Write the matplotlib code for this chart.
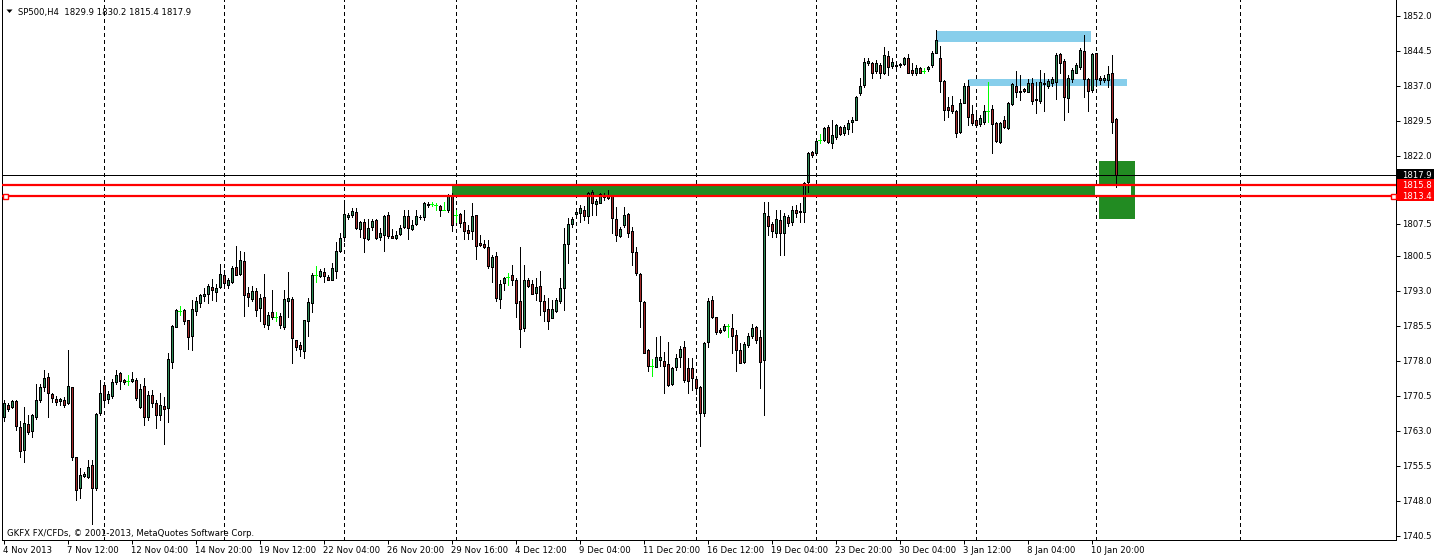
import matplotlib
matplotlib.use('Agg')
import matplotlib.pyplot as plt
from matplotlib.collections import LineCollection, PolyCollection
from matplotlib.patches import Rectangle, Polygon
import matplotlib.transforms as mtransforms

W, H, DPI = 1436, 558, 100

FS = 6.1
plt.rcParams['font.family'] = ['DejaVu Sans']

# ---------------- data ----------------
symbol = 'SP500,H4'
copyright_text = 'GKFX FX/CFDs, \u00a9 2001-2013, MetaQuotes Software Corp.'

opens = [
 1766.0, 1768.6, 1768.1, 1769.5, 1763.8, 1758.9, 1764.5, 1763.1, 1766.1, 1769.7,
 1772.5, 1774.5, 1771.0, 1769.8, 1769.5, 1769.7, 1769.0, 1772.4, 1757.4, 1750.9,
 1753.4, 1753.2, 1755.7, 1750.7, 1766.8, 1772.9, 1769.8, 1770.5, 1773.6, 1775.4,
 1773.9, 1773.8, 1773.8, 1773.9, 1768.1, 1772.7, 1766.1, 1770.7, 1769.1, 1766.5,
 1768.4, 1767.9, 1777.9, 1785.4, 1788.8, 1789.0, 1786.8, 1783.4, 1788.8, 1790.5,
 1792.0, 1792.5, 1794.0, 1792.9, 1793.8, 1796.5, 1794.3, 1795.0, 1798.1, 1796.7,
 1799.4, 1792.7, 1791.3, 1793.1, 1789.3, 1791.7, 1785.7, 1788.5, 1787.5, 1787.7,
 1785.4, 1791.0, 1791.3, 1782.5, 1781.5, 1780.2, 1786.5, 1790.4, 1796.5, 1796.3,
 1797.2, 1796.0, 1795.5, 1797.4, 1801.7, 1804.7, 1809.0, 1809.3, 1809.9, 1806.4,
 1807.9, 1804.1, 1806.8, 1808.3, 1804.7, 1805.0, 1809.3, 1804.8, 1804.3, 1805.2,
 1806.8, 1809.1, 1806.3, 1807.4, 1808.8, 1808.8, 1811.5, 1811.7, 1811.5, 1811.3,
 1810.5, 1810.3, 1813.6, 1809.3, 1809.5, 1807.9, 1806.1, 1805.8, 1809.3, 1803.4,
 1803.1, 1802.4, 1798.1, 1800.5, 1791.3, 1794.8, 1796.0, 1796.5, 1795.5, 1790.9,
 1785.0, 1795.4, 1794.5, 1792.7, 1794.1, 1790.9, 1789.1, 1787.3, 1788.8, 1790.8,
 1793.6, 1803.1, 1807.4, 1809.5, 1809.7, 1810.5, 1809.1, 1814.3, 1811.6, 1812.0,
 1813.6, 1813.4, 1813.4, 1808.4, 1804.8, 1807.2, 1809.5, 1805.9, 1801.5, 1796.7,
 1790.7, 1780.4, 1776.9, 1776.8, 1778.2, 1778.1, 1777.4, 1773.0, 1776.8, 1778.8,
 1781.0, 1776.5, 1776.5, 1774.1, 1772.4, 1766.9, 1782.0, 1791.1, 1787.4, 1784.6,
 1784.7, 1785.5, 1785.2, 1783.6, 1780.4, 1777.9, 1781.5, 1783.4, 1785.4, 1783.2,
 1778.2, 1809.1, 1807.4, 1805.4, 1808.3, 1805.4, 1808.8, 1807.9, 1810.5, 1810.1,
 1810.0, 1816.5, 1822.8, 1822.6, 1825.4, 1825.4, 1828.1, 1824.8, 1826.0, 1828.1,
 1827.0, 1827.7, 1829.3, 1829.8, 1835.4, 1837.2, 1842.0, 1842.0, 1840.3, 1841.5,
 1839.8, 1843.4, 1841.3, 1841.5, 1841.6, 1841.8, 1842.9, 1840.4, 1839.8, 1840.9,
 1840.3, 1840.6, 1841.5, 1844.1, 1842.9, 1838.1, 1832.4, 1832.9, 1831.7, 1827.2,
 1833.4, 1837.0, 1830.9, 1829.7, 1828.8, 1829.3, 1831.7, 1832.0, 1829.0, 1825.0,
 1829.6, 1827.9, 1833.1, 1837.0, 1836.0, 1836.3, 1835.8, 1837.6, 1834.3, 1833.8,
 1837.4, 1837.0, 1837.7, 1837.9, 1843.8, 1842.4, 1834.4, 1838.4, 1839.8, 1841.1,
 1844.6, 1838.4, 1836.1, 1844.0, 1838.8, 1838.3, 1838.3, 1839.8, 1829.9]

highs = [
 1769.7, 1769.0, 1769.7, 1769.7, 1765.2, 1768.1, 1766.5, 1766.7, 1773.2, 1773.2,
 1776.0, 1775.4, 1771.2, 1770.5, 1770.0, 1770.4, 1780.4, 1772.5, 1757.5, 1755.0,
 1754.3, 1756.8, 1756.8, 1766.8, 1774.0, 1773.6, 1771.5, 1774.1, 1776.1, 1775.7,
 1774.1, 1775.0, 1775.7, 1774.3, 1773.2, 1774.3, 1771.5, 1771.8, 1769.7, 1771.1,
 1770.4, 1779.7, 1785.7, 1789.1, 1789.8, 1789.1, 1786.8, 1791.1, 1791.8, 1792.5,
 1793.6, 1794.5, 1795.6, 1794.5, 1798.8, 1797.5, 1795.8, 1798.4, 1802.7, 1801.7,
 1801.5, 1793.8, 1794.1, 1793.6, 1792.5, 1796.7, 1788.6, 1793.3, 1788.6, 1788.4,
 1793.3, 1797.2, 1791.8, 1782.6, 1782.0, 1786.8, 1791.5, 1796.8, 1798.4, 1797.7,
 1797.9, 1796.5, 1799.0, 1803.6, 1805.4, 1812.6, 1809.7, 1810.8, 1810.8, 1808.1,
 1808.4, 1808.4, 1808.4, 1808.4, 1806.5, 1809.3, 1809.9, 1806.3, 1805.8, 1807.2,
 1810.3, 1810.3, 1808.3, 1810.3, 1809.3, 1812.2, 1812.2, 1812.1, 1811.8, 1811.5,
 1812.2, 1813.8, 1814.0, 1810.5, 1809.7, 1810.5, 1807.2, 1811.8, 1809.3, 1805.0,
 1804.0, 1804.0, 1800.8, 1801.5, 1795.4, 1796.1, 1796.8, 1798.6, 1795.8, 1802.4,
 1798.6, 1795.8, 1795.5, 1795.8, 1797.4, 1792.2, 1791.5, 1791.1, 1791.5, 1795.8,
 1806.5, 1808.6, 1808.8, 1810.4, 1811.5, 1811.3, 1814.3, 1814.7, 1812.7, 1814.0,
 1814.0, 1814.7, 1813.6, 1811.1, 1806.7, 1811.1, 1809.7, 1806.8, 1802.5, 1796.8,
 1790.8, 1780.5, 1778.4, 1783.2, 1783.4, 1780.0, 1782.2, 1776.8, 1779.5, 1781.2,
 1782.4, 1778.6, 1778.6, 1774.3, 1772.7, 1782.2, 1791.5, 1792.0, 1787.5, 1785.0,
 1786.0, 1786.0, 1788.2, 1784.7, 1781.8, 1782.2, 1784.0, 1786.0, 1785.5, 1784.7,
 1812.2, 1812.2, 1807.9, 1810.4, 1810.5, 1809.8, 1809.3, 1811.3, 1811.5, 1812.0,
 1816.5, 1822.9, 1823.1, 1825.3, 1826.8, 1828.1, 1828.6, 1829.8, 1828.8, 1828.4,
 1828.6, 1829.8, 1830.3, 1834.8, 1838.8, 1842.9, 1843.1, 1842.2, 1842.6, 1842.0,
 1845.4, 1844.6, 1842.9, 1842.0, 1842.0, 1843.3, 1843.8, 1842.0, 1841.5, 1841.1,
 1840.8, 1841.3, 1844.6, 1848.9, 1845.6, 1838.3, 1834.7, 1834.8, 1831.8, 1834.1,
 1837.6, 1838.3, 1832.9, 1831.1, 1830.8, 1832.9, 1837.9, 1832.9, 1829.3, 1829.3,
 1830.6, 1833.6, 1837.6, 1840.1, 1839.3, 1836.5, 1838.4, 1838.6, 1837.9, 1840.4,
 1839.7, 1838.4, 1839.0, 1844.1, 1844.0, 1842.7, 1839.3, 1840.8, 1841.9, 1845.1,
 1847.9, 1838.6, 1844.1, 1844.1, 1839.1, 1839.3, 1841.3, 1843.6, 1830.2]

lows = [
 1765.2, 1767.3, 1767.9, 1763.2, 1757.5, 1756.4, 1762.4, 1761.8, 1765.7, 1769.2,
 1771.5, 1766.1, 1769.3, 1768.6, 1768.6, 1768.2, 1768.8, 1756.8, 1748.2, 1748.6,
 1753.2, 1752.9, 1743.0, 1750.4, 1766.5, 1768.6, 1769.0, 1770.0, 1773.1, 1772.0,
 1773.2, 1772.9, 1773.6, 1769.7, 1767.9, 1764.3, 1765.4, 1768.2, 1763.6, 1765.4,
 1760.2, 1765.0, 1776.5, 1785.3, 1787.9, 1786.0, 1780.7, 1780.3, 1787.9, 1789.7,
 1790.8, 1790.5, 1791.1, 1791.0, 1793.6, 1794.0, 1793.6, 1794.8, 1796.5, 1796.4,
 1787.7, 1789.8, 1791.0, 1787.7, 1786.5, 1785.4, 1784.8, 1787.0, 1786.5, 1785.0,
 1784.8, 1787.4, 1777.5, 1780.4, 1779.0, 1778.6, 1783.3, 1788.6, 1795.0, 1796.0,
 1795.0, 1795.3, 1795.3, 1795.8, 1801.4, 1803.8, 1808.4, 1809.0, 1806.3, 1804.7,
 1801.5, 1804.0, 1806.1, 1804.1, 1804.0, 1801.7, 1804.5, 1804.3, 1804.2, 1805.0,
 1806.5, 1804.2, 1806.1, 1807.2, 1808.4, 1808.3, 1811.1, 1811.3, 1810.3, 1809.1,
 1810.3, 1810.0, 1805.8, 1807.9, 1806.8, 1804.2, 1804.2, 1804.1, 1800.0, 1802.7,
 1802.2, 1797.9, 1795.0, 1790.8, 1789.3, 1793.3, 1794.3, 1794.3, 1787.5, 1781.0,
 1784.5, 1793.8, 1792.4, 1791.1, 1787.9, 1786.5, 1784.9, 1787.2, 1788.6, 1790.5,
 1789.0, 1799.0, 1806.8, 1809.0, 1807.9, 1808.3, 1807.7, 1809.3, 1809.3, 1811.8,
 1812.5, 1812.7, 1805.5, 1803.8, 1804.7, 1806.8, 1804.7, 1798.6, 1796.5, 1785.4,
 1779.7, 1775.9, 1774.8, 1776.7, 1776.9, 1771.2, 1772.7, 1772.9, 1776.1, 1776.7,
 1773.6, 1771.2, 1771.8, 1771.0, 1759.8, 1766.2, 1781.0, 1787.2, 1783.8, 1784.1,
 1784.5, 1783.1, 1779.8, 1775.9, 1777.5, 1777.7, 1781.1, 1782.9, 1781.8, 1772.2,
 1766.5, 1805.0, 1804.7, 1804.7, 1800.8, 1800.8, 1807.0, 1807.2, 1809.0, 1807.9,
 1807.9, 1814.3, 1821.8, 1822.4, 1824.8, 1825.3, 1824.8, 1823.8, 1825.6, 1826.5,
 1826.5, 1826.8, 1827.2, 1829.6, 1835.1, 1836.8, 1841.5, 1838.8, 1839.8, 1838.8,
 1839.6, 1839.3, 1840.8, 1840.8, 1841.1, 1841.5, 1839.7, 1839.3, 1839.3, 1839.7,
 1839.7, 1840.3, 1841.1, 1844.0, 1835.8, 1829.7, 1830.4, 1831.1, 1826.0, 1827.0,
 1833.3, 1828.6, 1828.6, 1828.4, 1828.4, 1828.8, 1829.3, 1822.7, 1825.0, 1824.8,
 1827.9, 1827.7, 1832.9, 1834.7, 1834.0, 1835.8, 1835.6, 1833.1, 1831.1, 1833.3,
 1831.7, 1836.5, 1837.0, 1834.1, 1839.8, 1829.7, 1831.5, 1837.9, 1839.7, 1840.6,
 1834.6, 1831.7, 1835.8, 1837.0, 1837.4, 1837.9, 1836.8, 1827.0, 1815.4]

closes = [
 1769.0, 1767.8, 1769.5, 1764.0, 1758.8, 1764.7, 1762.9, 1766.5, 1769.7, 1772.4,
 1774.3, 1771.1, 1770.0, 1769.3, 1769.8, 1768.6, 1772.7, 1757.5, 1750.4, 1753.6,
 1753.8, 1755.4, 1750.9, 1766.7, 1771.2, 1769.7, 1771.0, 1773.6, 1775.0, 1773.8,
 1773.6, 1773.8, 1774.1, 1770.0, 1772.0, 1766.0, 1770.7, 1769.0, 1766.5, 1768.6,
 1767.7, 1778.4, 1785.5, 1789.0, 1788.8, 1786.5, 1783.2, 1789.1, 1791.0, 1792.2,
 1792.4, 1794.1, 1793.3, 1793.7, 1796.7, 1794.8, 1795.4, 1798.0, 1796.5, 1799.7,
 1792.2, 1791.8, 1793.0, 1789.0, 1791.5, 1786.0, 1787.9, 1787.5, 1787.5, 1785.7,
 1791.3, 1791.5, 1782.9, 1781.0, 1780.5, 1786.8, 1790.7, 1796.5, 1796.5, 1797.3,
 1796.3, 1795.5, 1797.9, 1801.7, 1804.3, 1809.5, 1809.4, 1810.2, 1806.5, 1807.8,
 1804.5, 1806.5, 1808.0, 1804.5, 1805.4, 1809.1, 1804.9, 1804.5, 1805.0, 1806.5,
 1809.1, 1806.5, 1807.2, 1809.1, 1809.0, 1811.8, 1811.6, 1811.7, 1811.5, 1810.3,
 1810.5, 1813.4, 1807.2, 1809.3, 1807.7, 1806.0, 1805.5, 1809.1, 1802.7, 1802.9,
 1802.4, 1798.3, 1800.3, 1791.5, 1794.5, 1795.9, 1796.0, 1795.4, 1790.5, 1784.8,
 1795.3, 1794.1, 1792.5, 1794.0, 1791.0, 1788.8, 1786.5, 1789.1, 1791.1, 1793.6,
 1803.1, 1807.5, 1808.4, 1810.0, 1810.8, 1809.1, 1814.0, 1811.8, 1812.3, 1813.8,
 1813.1, 1812.9, 1808.6, 1805.0, 1806.3, 1809.3, 1805.5, 1801.5, 1796.8, 1790.8,
 1779.8, 1777.0, 1776.9, 1778.8, 1778.9, 1777.0, 1772.9, 1776.5, 1778.6, 1780.5,
 1774.0, 1773.8, 1774.3, 1772.2, 1766.8, 1781.8, 1791.0, 1787.5, 1784.3, 1784.3,
 1785.5, 1785.5, 1783.4, 1780.4, 1777.7, 1781.7, 1783.4, 1785.1, 1782.5, 1777.9,
 1809.7, 1807.0, 1805.8, 1808.4, 1805.4, 1809.1, 1807.7, 1810.4, 1809.8, 1809.9,
 1816.3, 1822.6, 1822.1, 1825.1, 1825.4, 1827.9, 1825.0, 1826.5, 1828.6, 1826.8,
 1828.3, 1829.1, 1829.8, 1834.7, 1837.0, 1842.1, 1842.4, 1839.8, 1841.9, 1839.7,
 1843.6, 1841.0, 1842.2, 1841.2, 1841.7, 1842.9, 1839.8, 1839.8, 1840.8, 1839.8,
 1840.3, 1841.0, 1844.1, 1846.9, 1838.1, 1831.8, 1831.8, 1831.7, 1827.0, 1833.3,
 1837.0, 1830.4, 1829.0, 1828.6, 1830.1, 1831.7, 1831.7, 1828.8, 1825.3, 1829.0,
 1828.1, 1833.3, 1837.4, 1835.8, 1835.6, 1836.0, 1837.6, 1833.8, 1834.0, 1837.9,
 1837.7, 1838.1, 1838.4, 1843.6, 1842.0, 1834.6, 1838.8, 1840.4, 1841.5, 1844.8,
 1838.4, 1836.0, 1843.8, 1838.4, 1838.3, 1838.8, 1839.6, 1829.3, 1817.9]

date_ticks = list(range(0, 273, 16))
date_labels = ['4 Nov 2013', '7 Nov 12:00', '12 Nov 04:00', '14 Nov 20:00', '19 Nov 12:00',
               '22 Nov 04:00', '26 Nov 20:00', '29 Nov 16:00', '4 Dec 12:00', '9 Dec 04:00',
               '11 Dec 20:00', '16 Dec 12:00', '19 Dec 04:00', '23 Dec 20:00', '30 Dec 04:00',
               '3 Jan 12:00', '8 Jan 04:00', '10 Jan 20:00']
week_grid = [25.0, 55.0, 85.0, 113.1, 143.1, 173.1, 203.1, 223.1, 243.0, 273.0, 309.0]
price_ticks = [1852.0, 1844.5, 1837.0, 1829.5, 1822.0, 1807.5, 1800.5, 1793.0,
               1785.5, 1778.0, 1770.5, 1763.0, 1755.5, 1748.0, 1740.5]

bid_price = 1817.9
level_hi = 1815.8
level_lo = 1813.4
zone_x = (112.2, 272.9)                  # green band between the two levels
box_x, box_y = (273.9, 282.9), (1808.4, 1820.9)
box_gap_x = (272.9, 281.9)
blue1_x, blue1_y = (233.1, 271.8), (1846.43, 1848.78)
blue2_x, blue2_y = (241.1, 280.9), (1837.06, 1838.49)

Y_TOP, Y_BOT = 1855.43, 1739.65
X_LEFT, X_RIGHT = -0.375, 348.125

BULL = '#2E8B57'
BEAR = '#A52A2A'
DOJI = '#00FF00'
PX = 0.72  # one pixel in points

# ---------------- figure ----------------
fig = plt.figure(figsize=(W / DPI, H / DPI), dpi=DPI, facecolor='white')
ax = fig.add_axes([2 / W, 1 - 540 / H, 1394 / W, 540 / H])
ax.set_facecolor('white')
ax.set_xlim(X_LEFT, X_RIGHT)
ax.set_ylim(Y_BOT, Y_TOP)
ax.spines['top'].set_visible(False)
for s in ['left', 'right', 'bottom']:
    ax.spines[s].set_linewidth(PX)
    ax.spines[s].set_color('black')

# week separators
for gx in week_grid:
    ax.axvline(gx, color='black', lw=PX, linestyle=(0, (4, 3)), antialiased=False, zorder=1)

# objects
ax.add_patch(Rectangle((zone_x[0], level_lo), zone_x[1] - zone_x[0], level_hi - level_lo,
                       facecolor='#228B22', edgecolor='none', zorder=2))
ax.add_patch(Rectangle((box_x[0], box_y[0]), box_x[1] - box_x[0], box_y[1] - box_y[0],
                       facecolor='#228B22', edgecolor='none', zorder=2))
ax.add_patch(Rectangle((box_gap_x[0], level_lo), box_gap_x[1] - box_gap_x[0], level_hi - level_lo,
                       facecolor='white', edgecolor='none', zorder=2.5))
ax.add_patch(Rectangle((blue1_x[0], blue1_y[0]), blue1_x[1] - blue1_x[0], blue1_y[1] - blue1_y[0],
                       facecolor='#87CEEB', edgecolor='none', zorder=2))
ax.add_patch(Rectangle((blue2_x[0], blue2_y[0]), blue2_x[1] - blue2_x[0], blue2_y[1] - blue2_y[0],
                       facecolor='#87CEEB', edgecolor='none', zorder=2))

# candles
wicks, doji_segs, bodies, body_cols = [], [], [], []
for i, (o, h, l, c) in enumerate(zip(opens, highs, lows, closes)):
    if o == c:
        doji_segs.append([(i, l), (i, h)])
        doji_segs.append([(i - 0.3, o), (i + 0.3, o)])
    else:
        wicks.append([(i, l), (i, h)])
        lo, hi = min(o, c), max(o, c)
        bodies.append([(i - 0.25, lo), (i + 0.25, lo), (i + 0.25, hi), (i - 0.25, hi)])
        body_cols.append(BULL if c > o else BEAR)

ax.add_collection(LineCollection(wicks, colors='black', linewidths=PX, antialiased=False, zorder=3))
ax.add_collection(LineCollection(doji_segs, colors=DOJI, linewidths=PX, antialiased=False, zorder=3))
ax.add_collection(PolyCollection(bodies, facecolors=body_cols, edgecolors='none',
                                 antialiased=False, zorder=4))
ax.add_collection(PolyCollection(bodies, facecolors='none', edgecolors='black',
                                 linewidths=PX, antialiased=False, zorder=4.5))

# horizontal lines
ax.axhline(bid_price, color='black', lw=PX, antialiased=False, zorder=5)
ax.axhline(level_hi, color='#FF0000', lw=1.6, zorder=6)
ax.axhline(level_lo, color='#FF0000', lw=1.6, zorder=6)
handle_tr = mtransforms.blended_transform_factory(ax.transAxes, ax.transData)
for hx in [(5 - 2) / 1394, (1393 - 2) / 1394]:
    ax.plot([hx], [level_lo], marker='s', markersize=3.6, mfc='white', mec='#FF0000',
            mew=1.0, transform=handle_tr, clip_on=False, zorder=7)

# ticks
ax.set_xticks(date_ticks)
ax.set_xticklabels([])
ax.tick_params(axis='x', direction='out', length=4 * PX, width=PX, color='black')
ax.yaxis.tick_right()
ax.set_yticks(price_ticks)
ax.set_yticklabels([])
ax.tick_params(axis='y', direction='out', length=4 * PX, width=PX, color='black')

# bottom labels
xlab_tr = ax.get_xaxis_transform()
for t, lab in zip(date_ticks, date_labels):
    ax.text(t - 0.1, (540 - 553) / 540, lab, transform=xlab_tr, ha='left', va='baseline',
            fontsize=FS, color='black', clip_on=False)

# right labels
ylab_tr = mtransforms.blended_transform_factory(ax.transAxes, ax.transData) + \
    mtransforms.ScaledTranslation(0, -3.3 / DPI, fig.dpi_scale_trans)
lab_x = (1402 - 2) / 1394
for p in price_ticks:
    ax.text(lab_x, p, f'{p:.1f}', transform=ylab_tr, ha='left', va='baseline',
            fontsize=FS, color='black', clip_on=False)

# price boxes (figure level, over the axes)
for val, col in [(bid_price, 'black'), (level_hi, '#FF0000'), (level_lo, '#FF0000')]:
    yc = ax.transData.transform((0, val))[1]  # display pixels from bottom
    fig.add_artist(Rectangle((1397 / W, (yc + 0.5 - 5.3) / H), 37 / W, 10.6 / H,
                             transform=fig.transFigure, facecolor=col, edgecolor='none',
                             zorder=5))
    fig.text(1402 / W, (yc + 0.5 - 3.6) / H, f'{val:.1f}', ha='left', va='baseline',
             fontsize=FS, color='white', zorder=6)

# header
fig.add_artist(Polygon([(6.5 / W, 1 - 9.5 / H), (12.5 / W, 1 - 9.5 / H), (9.5 / W, 1 - 13 / H)],
                       closed=True, transform=fig.transFigure, facecolor='black', edgecolor='none'))
header = f'{symbol}  {opens[-1]:.1f} {highs[-1]:.1f} {lows[-1]:.1f} {closes[-1]:.1f}'
fig.text(18 / W, 1 - 15.5 / H, header, ha='left', va='baseline', fontsize=FS, color='black')
fig.text(7 / W, 1 - 536.5 / H, copyright_text, ha='left', va='baseline', fontsize=FS, color='black')

fig.savefig('out.png', dpi=DPI, facecolor='white')
